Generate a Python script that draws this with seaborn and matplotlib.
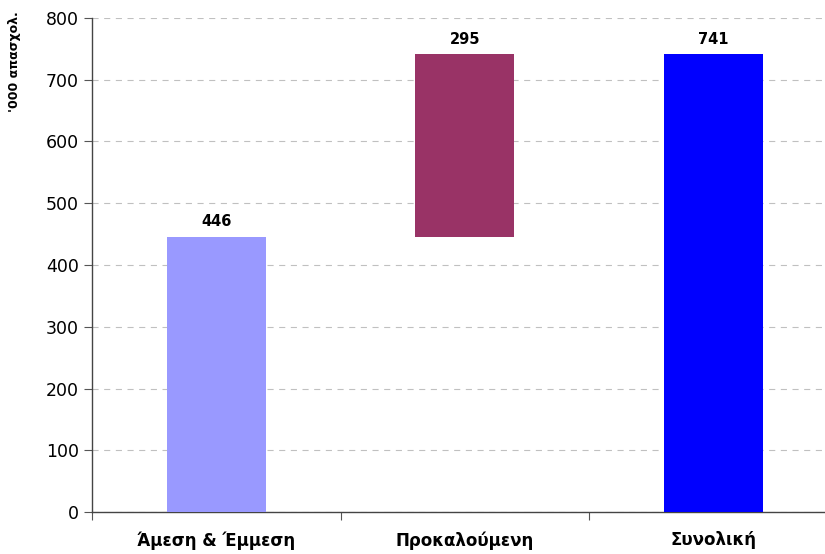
import numpy as np
import pandas as pd
import seaborn as sns
import matplotlib
matplotlib.use("Agg")
import matplotlib.pyplot as plt

# data (thousand jobs)
categories = ["Άμεση & Έμμεση", "Προκαλούμενη", "Συνολική"]
values = [446, 295, 741]
bases = [0, 446, 0]
colors = ["#9999FF", "#993366", "#0000FF"]
y_label = "'000 απασχολ."

df = pd.DataFrame({"cat": categories, "val": values, "base": bases})

sns.set_style("white")
plt.rcParams["font.family"] = ["DejaVu Sans"]
plt.rcParams["text.color"] = "black"
plt.rcParams["xtick.color"] = "black"
plt.rcParams["ytick.color"] = "black"

fig = plt.figure(figsize=(8.25, 5.54), dpi=100)
ax = fig.add_axes([92 / 825, 42 / 554, 745.5 / 825, 494 / 554])

sns.barplot(data=df, x="cat", y="val", color=colors[0], width=0.4,
            bottom=df["base"].values, ax=ax, zorder=3)
for bar, c in zip(ax.patches, colors):
    bar.set_facecolor(c)
    bar.set_edgecolor("none")

# value labels on top of each bar
for i, (v, b) in enumerate(zip(values, bases)):
    ax.text(i, v + b + 12, str(v), ha="center", va="bottom",
            fontsize=10.5, fontweight="bold", color="black")

ax.set_ylim(0, 800)
ax.set_xlim(-0.5, 2.5)
ax.set_yticks(np.arange(0, 801, 100))
ax.yaxis.grid(True, color="#C0C0C0", linestyle=(0, (5.5, 5)), linewidth=0.8)
ax.set_axisbelow(True)

# category labels in the middle, tick marks on the boundaries
ax.set_xticks([-0.5, 0.5, 1.5, 2.5])
ax.set_xticklabels([])
ax.set_xticks(range(len(categories)), minor=True)
ax.set_xticklabels(categories, minor=True, fontsize=12, fontweight="bold")
ax.tick_params(axis="x", which="minor", length=0, pad=14, labelcolor="black")
ax.tick_params(axis="x", which="major", length=6, color="#555555", direction="out", bottom=True)
ax.tick_params(axis="y", length=6, color="#555555", direction="out", left=True,
               labelsize=12.5, labelcolor="black")

ax.set_xlabel("")
ax.set_ylabel("")
sns.despine(ax=ax, top=True, right=True)
for s in ["left", "bottom"]:
    ax.spines[s].set_color("#444444")
    ax.spines[s].set_linewidth(1)

fig.text(15 / 825, 1 - 62 / 554, y_label, rotation=90, ha="center", va="center",
         fontsize=9, fontweight="bold", color="black")

fig.savefig("out.png", dpi=100)
